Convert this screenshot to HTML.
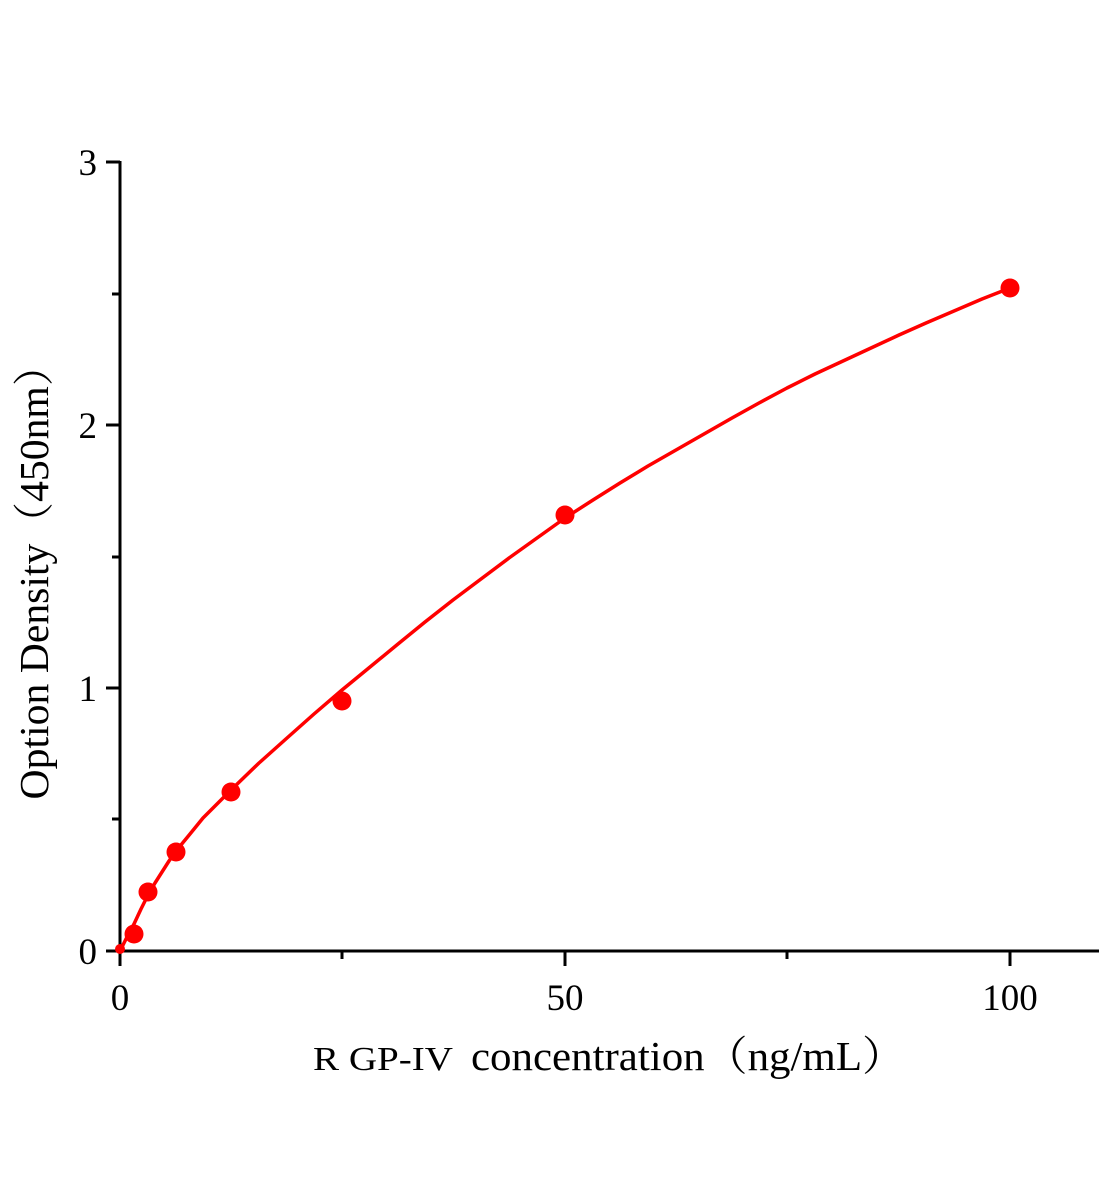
<!DOCTYPE html>
<html><head><style>
html,body{margin:0;padding:0;background:#fff;}
svg{display:block;}
text{font-family:"Liberation Serif","Noto Serif CJK SC",serif;fill:#000;}
</style></head><body>
<svg width="1104" height="1200" viewBox="0 0 1104 1200" xmlns="http://www.w3.org/2000/svg">
<g stroke="#000" stroke-width="3" fill="none">
<line x1="120" y1="161" x2="120" y2="952"/>
<line x1="119" y1="951" x2="1099" y2="951"/>
<line x1="106" y1="951" x2="120" y2="951"/>
<line x1="106" y1="688" x2="120" y2="688"/>
<line x1="106" y1="425" x2="120" y2="425"/>
<line x1="106" y1="162" x2="120" y2="162"/>
<line x1="112" y1="819" x2="120" y2="819"/>
<line x1="112" y1="557" x2="120" y2="557"/>
<line x1="112" y1="294" x2="120" y2="294"/>
<line x1="120" y1="951" x2="120" y2="966"/>
<line x1="565" y1="951" x2="565" y2="966"/>
<line x1="1010" y1="951" x2="1010" y2="966"/>
<line x1="342" y1="951" x2="342" y2="959"/>
<line x1="787" y1="951" x2="787" y2="959"/>
</g>
<g font-size="37" text-anchor="end">
<text x="97" y="964">0</text>
<text x="97" y="701">1</text>
<text x="97" y="438">2</text>
<text x="97" y="175">3</text>
</g>
<g font-size="37" text-anchor="middle">
<text x="120" y="1010">0</text>
<text x="565" y="1010">50</text>
<text x="1010" y="1010">100</text>
</g>
<text x="313" y="1070" font-size="34" textLength="140" lengthAdjust="spacingAndGlyphs">R GP-IV</text>
<text x="471" y="1070" font-size="41" textLength="434" lengthAdjust="spacingAndGlyphs">concentration（ng/mL）</text>
<text transform="translate(48,572) rotate(-90)" font-size="41" text-anchor="middle" textLength="455" lengthAdjust="spacingAndGlyphs">Option Density（450nm）</text>
<polyline fill="none" stroke="#f00" stroke-width="3.5" stroke-linejoin="round"
points="120,951 124,943 128,935 134,924 141,909 148,895 155,883 162,872 169,861 176,851 190,834 203,818 217,804 231,790 259,763 287,738 314,714 342,690 370,667 398,644 425,622 453,600 481,579 509,558 537,538 565,518 593,500 620,483 648,466 676,450 704,434 732,418 759,403 787,388 815,374 843,361 871,348 899,335 926,323 954,311 982,299 1010,288"/>
<g fill="#f00">
<circle cx="120" cy="949" r="5"/>
<circle cx="134" cy="934" r="9.5"/>
<circle cx="148" cy="892" r="9.5"/>
<circle cx="176" cy="852" r="9.5"/>
<circle cx="231" cy="792" r="9.5"/>
<circle cx="342" cy="701" r="9.5"/>
<circle cx="565" cy="515" r="9.5"/>
<circle cx="1010" cy="288" r="9.5"/>
</g>
</svg>
</body></html>
